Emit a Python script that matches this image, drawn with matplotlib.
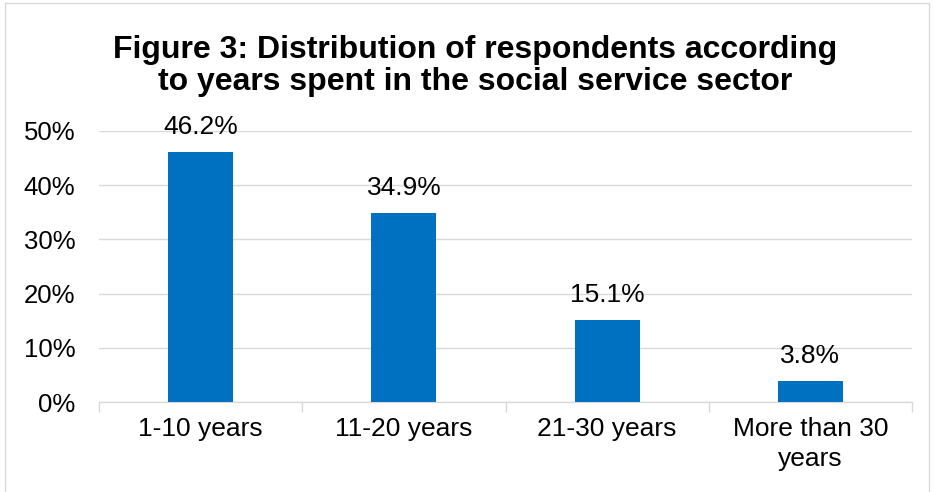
import matplotlib
matplotlib.use("Agg")
import matplotlib.pyplot as plt
from matplotlib.patches import Rectangle

categories = ["1-10 years", "11-20 years", "21-30 years", "More than 30\nyears"]
values = [46.2, 34.9, 15.1, 3.8]
yticks = [0, 10, 20, 30, 40, 50]
title = "Figure 3: Distribution of respondents according\nto years spent in the social service sector"

plt.rcParams['font.family'] = ['Liberation Sans', 'DejaVu Sans']

W, H = 934, 492
fig = plt.figure(figsize=(W/100, H/100), dpi=100)
ax = fig.add_axes([99/W, 1-402/H, (912-99)/W, (402-131)/H])

x = list(range(len(categories)))
bars = ax.bar(x, values, width=0.32, color="#0070C0", zorder=3)
for xi, v in zip(x, values):
    ax.annotate(f"{v:.1f}%", (xi, v), xytext=(0, 18), textcoords="offset points",
                ha="center", va="center", fontsize=19, color="#000000")

ax.set_xlim(-0.5, len(categories)-0.5)
ax.set_ylim(0, 50)
ax.set_yticks(yticks)
ax.set_yticklabels([f"{t}%" for t in yticks], fontsize=18.5)
ax.set_xticks(x)
ax.set_xticklabels(categories, fontsize=19, linespacing=1.3)
ax.tick_params(axis="y", length=0, pad=17)
ax.tick_params(axis="x", which="major", length=0, pad=11)
ax.set_xticks([i - 0.5 for i in range(len(categories)+1)], minor=True)
ax.tick_params(axis="x", which="minor", length=7, color="#D9D9D9", width=1)
ax.grid(axis="y", color="#D9D9D9", linewidth=1, zorder=0)
for s in ["top", "right", "left"]:
    ax.spines[s].set_visible(False)
ax.spines["bottom"].set_color("#D9D9D9")
ax.spines["bottom"].set_linewidth(1)

fig.text(475/W, 1-66/H, title, ha="center", va="center", fontsize=23,
         fontweight="bold", linespacing=1.12)

fig.patches.append(Rectangle((5/W, -0.05), (929-5)/W, 1-3/H+0.05, transform=fig.transFigure,
                             fill=False, edgecolor="#D9D9D9", linewidth=1))

fig.savefig("out.png", dpi=100)
